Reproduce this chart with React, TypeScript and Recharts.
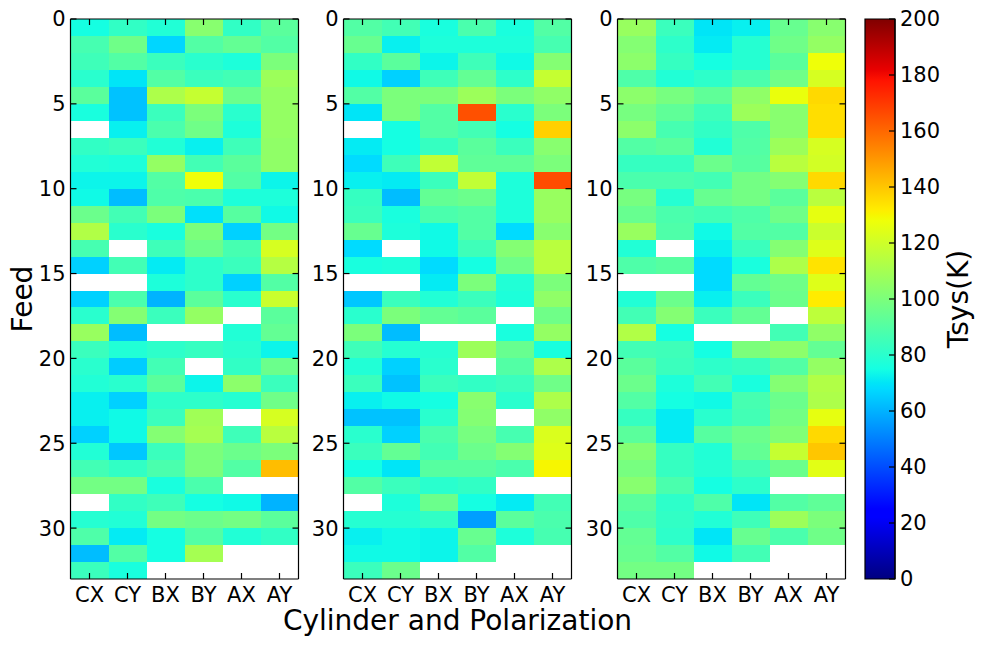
import React from "react";
import { BarChart, Bar, Cell, XAxis, YAxis, Label } from "recharts";

const categories = ["CX", "CY", "BX", "BY", "AX", "AY"];
const feedTicks = [0, 5, 10, 15, 20, 25, 30];
const tsysTicks = [0, 20, 40, 60, 80, 100, 120, 140, 160, 180, 200];

const N = null;

// Tsys per feed (rows), columns follow categories
const tsysLeft = [
  [75, 82, 78, 103, 82, 92],
  [87, 97, 67, 90, 94, 90],
  [85, 90, 84, 80, 77, 100],
  [80, 70, 90, 84, 86, 108],
  [92, 63, 112, 118, 96, 106],
  [76, 63, 84, 100, 80, 106],
  [N, 72, 88, 97, 77, 106],
  [82, 84, 78, 72, 85, 105],
  [78, 77, 106, 86, 92, 105],
  [73, 73, 90, 128, 90, 73],
  [74, 62, 89, 88, 77, 77],
  [96, 86, 100, 69, 91, 74],
  [113, 80, 76, 100, 66, 98],
  [87, N, 85, 96, 87, 122],
  [66, 86, 71, 81, 84, 114],
  [N, N, 77, 81, 66, 90],
  [66, 88, 60, 92, 80, 119],
  [80, 102, 84, 106, N, 92],
  [107, 62, N, N, 78, 94],
  [84, 78, 81, 83, 80, 73],
  [80, 65, 86, N, 82, 96],
  [78, 80, 92, 73, 104, 84],
  [72, 66, 81, 81, 79, 97],
  [72, 74, 84, 109, N, 122],
  [66, 74, 102, 110, 85, 115],
  [78, 64, 84, 100, 96, 100],
  [86, 82, 88, 100, 90, 142],
  [98, 98, 76, 88, N, N],
  [N, 82, 85, 75, 74, 60],
  [79, 78, 98, 96, 98, 92],
  [89, 71, 75, 90, 78, 82],
  [62, 90, 75, 110, N, N],
  [84, 76, N, N, N, N],
];

const tsysMiddle = [
  [90, 86, 76, 88, 76, 90],
  [95, 72, 77, 77, 77, 87],
  [82, 92, 73, 85, 74, 102],
  [74, 66, 85, 94, 81, 118],
  [90, 100, 100, 108, 100, 105],
  [70, 100, 90, 165, 80, 100],
  [N, 75, 90, 86, 75, 138],
  [71, 75, 83, 92, 84, 103],
  [68, 85, 117, 93, 93, 100],
  [72, 71, 84, 117, 77, 166],
  [83, 62, 94, 96, 77, 107],
  [84, 76, 88, 90, 77, 107],
  [95, 77, 74, 90, 68, 103],
  [68, N, 74, 85, 102, 115],
  [76, 77, 68, 75, 97, 115],
  [N, N, 71, 100, 78, 100],
  [64, 84, 78, 84, 77, 105],
  [80, 100, 94, 92, N, 97],
  [100, 62, N, N, 76, 106],
  [85, 79, 79, 108, 95, 76],
  [78, 66, 80, N, 90, 112],
  [84, 63, 84, 82, 84, 97],
  [72, 74, 75, 103, 80, 112],
  [63, 63, 80, 102, N, 105],
  [80, 66, 88, 99, 87, 123],
  [84, 94, 86, 96, 102, 124],
  [75, 70, 91, 91, 88, 130],
  [90, 84, 80, 82, N, N],
  [N, 77, 96, 75, 71, 86],
  [79, 79, 82, 56, 92, 88],
  [72, 74, 73, 95, 77, 87],
  [74, 74, 73, 90, N, N],
  [84, 96, N, N, N, N],
];

const tsysRight = [
  [107, 84, 70, 72, 95, 103],
  [102, 81, 71, 79, 97, 106],
  [104, 83, 75, 79, 92, 128],
  [89, 78, 81, 88, 97, 122],
  [104, 99, 93, 105, 127, 136],
  [99, 93, 85, 108, 103, 135],
  [104, 87, 82, 89, 103, 135],
  [90, 92, 78, 90, 108, 122],
  [83, 83, 96, 91, 115, 121],
  [88, 88, 86, 98, 102, 136],
  [99, 79, 95, 98, 92, 115],
  [95, 88, 86, 89, 97, 126],
  [107, 89, 74, 90, 90, 119],
  [78, N, 72, 84, 102, 124],
  [89, 91, 68, 76, 112, 134],
  [N, N, 68, 94, 97, 124],
  [78, 96, 72, 84, 96, 132],
  [86, 102, 84, 94, N, 116],
  [113, 75, N, N, 86, 105],
  [86, 85, 75, 100, 104, 94],
  [92, 84, 81, 83, 90, 106],
  [96, 77, 86, 76, 102, 113],
  [90, 75, 74, 87, 96, 112],
  [83, 71, 80, 86, 98, 126],
  [92, 71, 91, 96, 101, 136],
  [102, 83, 78, 94, 118, 140],
  [99, 83, 79, 86, 96, 125],
  [103, 88, 75, 81, N, N],
  [92, 81, 89, 70, 90, 93],
  [89, 82, 78, 85, 108, 100],
  [94, 81, 70, 95, 88, 97],
  [95, 90, 74, 86, N, N],
  [98, 98, N, N, N, N],
];

const FONT = "DejaVu Sans";
const tickStyle = { fontSize: 21, fill: "#000", fontFamily: FONT };
const labelStyle = { fontSize: 28, fill: "#000", fontFamily: FONT };
const axisLine = { stroke: "#000", strokeWidth: 1.2 };
const tickLine = { stroke: "#000", strokeWidth: 1.2 };
const noText = () => "";

const RED = [[0, 0], [0.35, 0], [0.66, 1], [0.89, 1], [1, 0.5]];
const GREEN = [[0, 0], [0.125, 0], [0.375, 1], [0.64, 1], [0.91, 0], [1, 0]];
const BLUE = [[0, 0.5], [0.11, 1], [0.34, 1], [0.65, 0], [1, 0]];

function channel(segments: number[][], t: number) {
  for (let i = 1; i < segments.length; i++) {
    if (t <= segments[i][0]) {
      const [x0, y0] = segments[i - 1];
      const [x1, y1] = segments[i];
      return Math.round(255 * (y0 + ((t - x0) / (x1 - x0)) * (y1 - y0)));
    }
  }
  return 0;
}

function jet(t: number) {
  return `rgb(${channel(RED, t)},${channel(GREEN, t)},${channel(BLUE, t)})`;
}

const jetStops = [0, 0.11, 0.125, 0.34, 0.35, 0.375, 0.64, 0.65, 0.66, 0.89, 0.91, 1];

const layer = { position: "absolute", left: 0, top: 0 } as const;

interface PanelProps {
  values: (number | null)[][];
  left: number;
  width: number;
  marginLeft: number;
  marginRight: number;
  xLabel?: string;
  yLabel?: string;
}

function Panel({ values, left, width, marginLeft, marginRight, xLabel, yLabel }: PanelProps) {
  // every cell is one feed tall, the colour carries the Tsys value
  const table = categories.map((name) => {
    const row: Record<string, string | number> = { name };
    values.forEach((_, i) => {
      row[`feed${i}`] = 1;
    });
    return row;
  });

  return (
    <div style={{ position: "absolute", left, top: 0 }}>
      <div style={layer}>
        <BarChart
          width={width}
          height={646}
          data={table}
          barCategoryGap={0}
          margin={{ top: 19, right: marginRight, left: marginLeft + 60, bottom: 67 }}
        >
          <XAxis dataKey="name" hide />
          <YAxis type="number" reversed domain={[0, 33]} hide />
          {values.map((row, i) => (
            <Bar key={i} dataKey={`feed${i}`} stackId="cells" isAnimationActive={false}>
              {row.map((v, j) => (
                <Cell key={j} fill={v === null ? "#fff" : jet(v / 200)} shapeRendering="crispEdges" />
              ))}
            </Bar>
          ))}
        </BarChart>
      </div>
      {/* axes in a second layer so the inward ticks sit on top of the cells,
          the unfilled bars only keep the axes bound to a series */}
      <div style={layer}>
        <BarChart
          width={width}
          height={646}
          data={table}
          margin={{ top: 18, right: marginRight - 1, left: marginLeft, bottom: 0 }}
        >
          <Bar dataKey="feed0" fill="none" isAnimationActive={false} />
          <Bar dataKey="feed0" xAxisId="top" yAxisId="right" fill="none" isAnimationActive={false} />
          <XAxis
            dataKey="name"
            height={67}
            interval={0}
            tick={tickStyle}
            tickSize={-6}
            tickMargin={14}
            axisLine={axisLine}
            tickLine={tickLine}
          >
            {xLabel && <Label value={xLabel} position="insideBottom" offset={16} style={labelStyle} />}
          </XAxis>
          <XAxis
            xAxisId="top"
            orientation="top"
            dataKey="name"
            height={1}
            interval={0}
            tickFormatter={noText}
            tickSize={-6}
            axisLine={axisLine}
            tickLine={tickLine}
          />
          <YAxis
            type="number"
            reversed
            domain={[0, 33]}
            ticks={feedTicks}
            width={60}
            tick={tickStyle}
            tickSize={-6}
            tickMargin={11}
            axisLine={axisLine}
            tickLine={tickLine}
          >
            {yLabel && (
              <Label
                value={yLabel}
                angle={-90}
                position="insideLeft"
                offset={12}
                style={{ ...labelStyle, textAnchor: "middle" }}
              />
            )}
          </YAxis>
          <YAxis
            yAxisId="right"
            orientation="right"
            type="number"
            reversed
            domain={[0, 33]}
            ticks={feedTicks}
            width={1}
            tickFormatter={noText}
            tickSize={-6}
            axisLine={axisLine}
            tickLine={tickLine}
          />
        </BarChart>
      </div>
    </div>
  );
}

const colorbarData = [{ name: "Tsys", value: 200 }];

function Colorbar() {
  return (
    <div style={{ position: "absolute", left: 860, top: 0 }}>
      <div style={layer}>
        <BarChart
          width={124}
          height={646}
          data={colorbarData}
          barCategoryGap={0}
          margin={{ top: 19, right: 89, left: 5, bottom: 67 }}
        >
          <defs>
            <linearGradient id="jetGradient" x1="0" y1="1" x2="0" y2="0">
              {jetStops.map((s) => (
                <stop key={s} offset={s} stopColor={jet(s)} />
              ))}
            </linearGradient>
          </defs>
          <XAxis dataKey="name" hide />
          <YAxis type="number" domain={[0, 200]} hide />
          <Bar
            dataKey="value"
            fill="url(#jetGradient)"
            stroke="#000"
            strokeWidth={1.2}
            isAnimationActive={false}
          />
        </BarChart>
      </div>
      <div style={layer}>
        <BarChart
          width={124}
          height={646}
          data={colorbarData}
          margin={{ top: 19, right: 0, left: 5, bottom: 67 }}
        >
          <Bar dataKey="value" fill="none" isAnimationActive={false} />
          <XAxis dataKey="name" hide />
          <YAxis
            orientation="right"
            type="number"
            domain={[0, 200]}
            ticks={tsysTicks}
            interval={0}
            width={89}
            tick={tickStyle}
            tickSize={-6}
            tickMargin={11}
            axisLine={axisLine}
            tickLine={tickLine}
          >
            <Label
              value="Tsys(K)"
              angle={-90}
              position="insideRight"
              offset={26}
              style={{ ...labelStyle, textAnchor: "middle" }}
            />
          </YAxis>
        </BarChart>
      </div>
    </div>
  );
}

export default function App() {
  return (
    <div style={{ position: "absolute", left: 0, top: 0, width: 984, height: 646, background: "#fff" }}>
      <Panel values={tsysLeft} left={0} width={310} marginLeft={10.5} marginRight={11.5} yLabel="Feed" />
      <Panel
        values={tsysMiddle}
        left={250}
        width={416}
        marginLeft={33.5}
        marginRight={94.5}
        xLabel="Cylinder and Polarization"
      />
      <Panel values={tsysRight} left={550} width={310} marginLeft={7.5} marginRight={14.5} />
      <Colorbar />
    </div>
  );
}
